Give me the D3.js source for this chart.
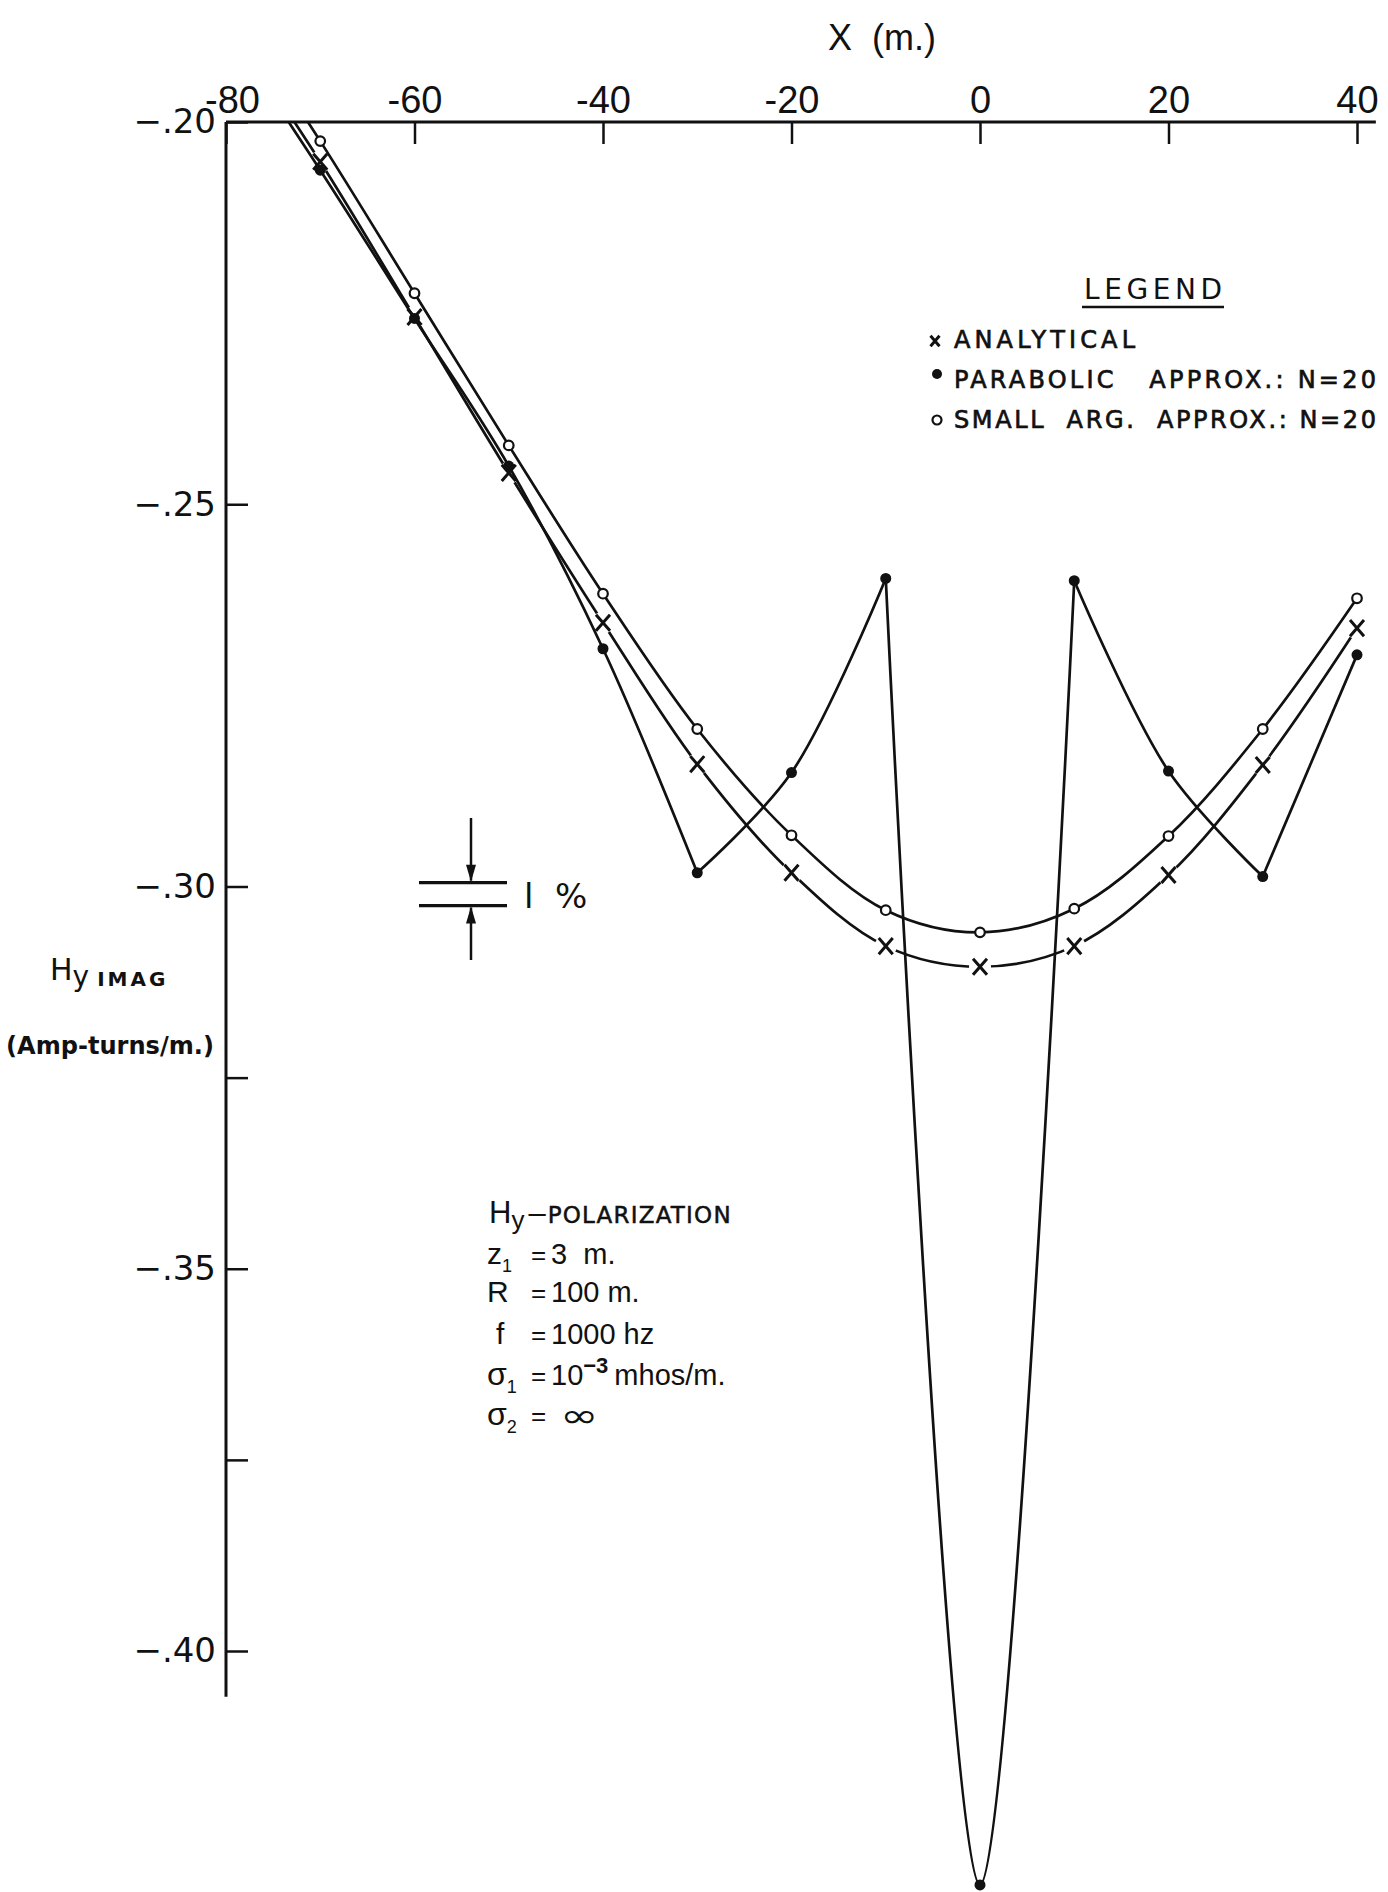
<!DOCTYPE html>
<html>
<head>
<meta charset="utf-8">
<script src="https://cdn.jsdelivr.net/npm/d3@7"></script>
<style>
  body { margin: 0; background: #fff; }
  text { fill: #111; }
</style>
</head>
<body>
<svg id="chart"></svg>
<script>
// x positions (m.) -- the -80 values sit above the top edge and are clipped
var xValues   = [-80, -70, -60, -50, -40, -30, -20, -10, 0, 10, 20, 30, 40];
var analytical = [-0.1867, -0.2052, -0.2255, -0.2459, -0.2655, -0.2840, -0.2982, -0.3078, -0.3105, -0.3078, -0.2985, -0.2841, -0.2662];
var parabolic  = [-0.1877, -0.2063, -0.2257, -0.2450, -0.2689, -0.2982, -0.2851, -0.2597, -0.4306, -0.2600, -0.2849, -0.2987, -0.2697];
var smallArg   = [-0.1838, -0.2025, -0.2224, -0.2423, -0.2617, -0.2794, -0.2933, -0.3031, -0.3060, -0.3029, -0.2934, -0.2794, -0.2623];
var parabolicCusps = [-30, -10, 10, 30];

var xTicks = [-80, -60, -40, -20, 0, 20, 40];
var yTicks = [-0.20, -0.25, -0.30, -0.325, -0.35, -0.375, -0.40];
var onePct = [-0.2995, -0.3025];

var legendItems = ["ANALYTICAL", "PARABOLIC   APPROX.: N=20", "SMALL  ARG.  APPROX.: N=20"];
var legendWidths = [181, 422, 422];

var W = 1388, H = 1892;
var dd = { left: 226, right: 1357, top: 122, bottom: 1651 };
var narrow = "'Liberation Sans Narrow', 'Liberation Sans', sans-serif";

var svg = d3.select("#chart").attr("width", W).attr("height", H)
  .style("font-family", "'DejaVu Sans', sans-serif");

var xScale = d3.scaleLinear().domain([-80, 40]).range([dd.left, dd.right]);
var yScale = d3.scaleLinear().domain([-0.20, -0.40]).range([dd.top, dd.bottom]);

svg.append("clipPath").attr("id", "plotclip")
  .append("rect").attr("x", dd.left).attr("y", dd.top)
  .attr("width", W - dd.left).attr("height", H - dd.top);

// top axis
var xAxis = svg.append("g")
  .attr("transform", "translate(0," + dd.top + ")")
  .call(d3.axisTop(xScale).tickValues(xTicks).tickSizeInner(-22).tickSizeOuter(0).tickPadding(9)
    .tickFormat(function(d) { return d < 0 ? "-" + (-d) : d; }));
xAxis.select(".domain").remove();
xAxis.selectAll(".tick line").attr("stroke", "#111").attr("stroke-width", 2.5);
xAxis.selectAll("text").attr("font-size", 38).attr("font-family", narrow).style("fill", "#111");
xAxis.selectAll("text").filter(function(d) { return d === -80; }).attr("dx", 6);
svg.append("line")
  .attr("x1", xScale(-80)).attr("x2", xScale(42))
  .attr("y1", dd.top).attr("y2", dd.top)
  .attr("stroke", "#111").attr("stroke-width", 3);

svg.append("text").attr("x", 882).attr("y", 50).attr("text-anchor", "middle")
  .attr("font-size", 36).attr("font-family", narrow).attr("xml:space", "preserve")
  .text("X  (m.)");

// left axis
var yAxis = svg.append("g")
  .attr("transform", "translate(" + dd.left + ",0)")
  .call(d3.axisLeft(yScale).tickValues(yTicks).tickSizeInner(-22).tickSizeOuter(0).tickPadding(10)
    .tickFormat(function(d) {
      if (Math.abs(Math.round(d * 20) - d * 20) > 1e-6) return "";
      return "\u2212." + d3.format(".2f")(-d).slice(2);
    }));
yAxis.select(".domain").remove();
yAxis.selectAll(".tick line").attr("stroke", "#111").attr("stroke-width", 2.5);
yAxis.selectAll("text").attr("font-size", 34).attr("font-family", "'DejaVu Sans', sans-serif").style("fill", "#111");
svg.append("line")
  .attr("x1", dd.left).attr("x2", dd.left)
  .attr("y1", dd.top).attr("y2", yScale(-0.406))
  .attr("stroke", "#111").attr("stroke-width", 3);

// y axis title
var yt = svg.append("text").attr("x", 50).attr("y", 980).attr("font-size", 30);
yt.append("tspan").text("H");
yt.append("tspan").attr("dy", 6).attr("font-size", 28).text("y");
yt.append("tspan").attr("dx", 8).attr("font-size", 20).attr("font-weight", "bold").attr("letter-spacing", 3).text("IMAG");
svg.append("text").attr("x", 6).attr("y", 1054).attr("font-size", 24).attr("font-weight", "bold")
  .attr("textLength", 208).attr("lengthAdjust", "spacingAndGlyphs")
  .text("(Amp-turns/m.)");

// curves
var line = d3.line()
  .x(function(d) { return xScale(d[0]); })
  .y(function(d) { return yScale(d[1]); })
  .curve(d3.curveCatmullRom.alpha(0.5));

var plot = svg.append("g").attr("clip-path", "url(#plotclip)");

var aPts = d3.zip(xValues, analytical);
var pPts = d3.zip(xValues, parabolic);
var sPts = d3.zip(xValues, smallArg);

plot.append("path").datum(aPts).attr("d", line)
  .attr("fill", "none").attr("stroke", "#111").attr("stroke-width", 2.7);

// small gap in the analytical line around each x mark
plot.selectAll(".halo").data(aPts).enter().append("circle")
  .attr("class", "halo")
  .attr("cx", function(d) { return xScale(d[0]); })
  .attr("cy", function(d) { return yScale(d[1]); })
  .attr("r", 11).attr("fill", "#fff");

// parabolic approx broken into arcs at its cusps
var segs = [], cur = [];
pPts.forEach(function(p) {
  cur.push(p);
  if (parabolicCusps.indexOf(p[0]) >= 0) { segs.push(cur); cur = [p]; }
});
segs.push(cur);
plot.selectAll(".pseg").data(segs).enter().append("path")
  .attr("class", "pseg").attr("d", line)
  .attr("fill", "none").attr("stroke", "#111").attr("stroke-width", 2.7);

plot.append("path").datum(sPts).attr("d", line)
  .attr("fill", "none").attr("stroke", "#111").attr("stroke-width", 2.7);

function xMark(sel, size, w) {
  sel.append("path")
    .attr("d", "M" + (-size) + "," + (-size * 1.15) + "L" + size + "," + (size * 1.15) +
               "M" + (-size) + "," + (size * 1.15) + "L" + size + "," + (-size * 1.15))
    .attr("stroke", "#111").attr("stroke-width", w).attr("fill", "none");
}

plot.selectAll(".amark").data(aPts).enter().append("g")
  .attr("class", "amark")
  .attr("transform", function(d) { return "translate(" + xScale(d[0]) + "," + yScale(d[1]) + ")"; })
  .call(xMark, 7, 3);

plot.selectAll(".pmark").data(pPts).enter().append("circle")
  .attr("class", "pmark")
  .attr("cx", function(d) { return xScale(d[0]); })
  .attr("cy", function(d) { return yScale(d[1]); })
  .attr("r", 5.5).attr("fill", "#111");

plot.selectAll(".smark").data(sPts).enter().append("circle")
  .attr("class", "smark")
  .attr("cx", function(d) { return xScale(d[0]); })
  .attr("cy", function(d) { return yScale(d[1]); })
  .attr("r", 4.8).attr("fill", "#fff").attr("stroke", "#111").attr("stroke-width", 2.2);

// legend
var lg = svg.append("g").attr("transform", "translate(935,0)");
lg.append("text").attr("x", 149).attr("y", 299)
  .attr("font-size", 28).attr("textLength", 138).attr("lengthAdjust", "spacing").text("LEGEND");
lg.append("line").attr("x1", 147).attr("x2", 289).attr("y1", 307).attr("y2", 307)
  .attr("stroke", "#111").attr("stroke-width", 2.5);
var rowY = [338, 378, 418];
var rows = lg.selectAll(".lrow").data(legendItems).enter().append("g")
  .attr("class", "lrow")
  .attr("transform", function(d, i) { return "translate(0," + rowY[i] + ")"; });
rows.append("text").attr("x", 19).attr("y", 10).attr("font-size", 24)
  .attr("stroke", "#111").attr("stroke-width", 0.7)
  .attr("textLength", function(d, i) { return legendWidths[i]; }).attr("lengthAdjust", "spacing")
  .attr("xml:space", "preserve").style("white-space", "pre")
  .text(function(d) { return d; });
xMark(rows.filter(function(d, i) { return i === 0; }).append("g").attr("transform", "translate(0,3)"), 4.5, 3);
rows.filter(function(d, i) { return i === 1; }).append("circle").attr("cx", 2).attr("cy", -4).attr("r", 5).attr("fill", "#111");
rows.filter(function(d, i) { return i === 2; }).append("circle").attr("cx", 2).attr("cy", 2).attr("r", 4.5)
  .attr("fill", "#fff").attr("stroke", "#111").attr("stroke-width", 2.2);

// 1% scale marker
var pct = svg.append("g");
var pctX = 471;
pct.selectAll(".pl").data(onePct).enter().append("line")
  .attr("x1", 419).attr("x2", 507)
  .attr("y1", function(d) { return yScale(d); }).attr("y2", function(d) { return yScale(d); })
  .attr("stroke", "#111").attr("stroke-width", 3.2);
pct.append("line").attr("x1", pctX).attr("x2", pctX).attr("y1", 818).attr("y2", yScale(onePct[0]) - 2)
  .attr("stroke", "#111").attr("stroke-width", 2.5);
pct.append("line").attr("x1", pctX).attr("x2", pctX).attr("y1", 960).attr("y2", yScale(onePct[1]) + 2)
  .attr("stroke", "#111").attr("stroke-width", 2.5);
pct.append("path")
  .attr("d", "M" + (pctX - 5) + "," + (yScale(onePct[0]) - 18) + "L" + (pctX + 5) + "," + (yScale(onePct[0]) - 18) + "L" + pctX + "," + (yScale(onePct[0]) - 1) + "Z")
  .attr("fill", "#111");
pct.append("path")
  .attr("d", "M" + (pctX - 5) + "," + (yScale(onePct[1]) + 18) + "L" + (pctX + 5) + "," + (yScale(onePct[1]) + 18) + "L" + pctX + "," + (yScale(onePct[1]) + 1) + "Z")
  .attr("fill", "#111");
pct.append("text").attr("x", 524).attr("y", 908).attr("font-size", 34).attr("xml:space", "preserve")
  .text("l  %");

// parameter block
var pb = svg.append("g").attr("font-size", 29).attr("font-family", narrow);
var t0 = pb.append("text").attr("x", 489).attr("y", 1223);
t0.append("tspan").attr("font-size", 31).text("H");
t0.append("tspan").attr("dy", 6).attr("font-size", 26).text("y");
t0.append("tspan").attr("dy", -6).attr("dx", 4).attr("font-size", 31).text("\u2013");
t0.append("tspan").attr("dx", 2).attr("font-size", 23).attr("font-family", "'DejaVu Sans', sans-serif")
  .attr("stroke", "#111").attr("stroke-width", 0.5).attr("textLength", 183).attr("lengthAdjust", "spacing").text("POLARIZATION");

var paramY = [1264, 1302, 1344, 1385, 1425];
var paramName = ["z", "R", "f", "\u03c3", "\u03c3"];
var paramSub = ["1", "", "", "1", "2"];
paramName.forEach(function(n, i) {
  var t = pb.append("text").attr("x", i === 2 ? 496 : 487).attr("y", paramY[i]);
  t.append("tspan").attr("font-size", i >= 3 ? 32 : 30).text(n);
  if (paramSub[i]) t.append("tspan").attr("dy", 8).attr("font-size", 18).text(paramSub[i]);
  pb.append("text").attr("x", 531).attr("y", paramY[i]).attr("font-size", 26).text("=");
});
pb.append("text").attr("x", 551).attr("y", paramY[0]).attr("xml:space", "preserve").text("3  m.");
pb.append("text").attr("x", 551).attr("y", paramY[1]).text("100 m.");
pb.append("text").attr("x", 551).attr("y", paramY[2]).text("1000 hz");
var s1 = pb.append("text").attr("x", 551).attr("y", paramY[3]);
s1.append("tspan").text("10");
s1.append("tspan").attr("dy", -12).attr("font-size", 22).attr("font-weight", "bold").text("\u22123");
s1.append("tspan").attr("dy", 12).attr("dx", 6).text("mhos/m.");
pb.append("text").attr("transform", "translate(560," + (paramY[4] + 2) + ") scale(1.4,1)")
  .attr("font-size", 33).attr("font-family", "'DejaVu Sans', sans-serif").text("\u221e");
</script>
</body>
</html>
